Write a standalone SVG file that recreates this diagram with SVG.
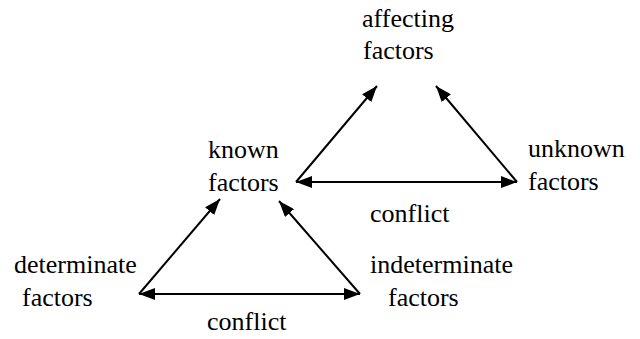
<svg xmlns="http://www.w3.org/2000/svg" width="640" height="339" viewBox="0 0 640 339">
<defs>
<marker id="ah" viewBox="0 0 16 12" refX="16" refY="6" markerWidth="16" markerHeight="12" markerUnits="userSpaceOnUse" orient="auto-start-reverse">
<path d="M0,0 L16,6 L0,12 Z" fill="#000"/>
</marker>
</defs>
<style>
.t{font-family:'Liberation Serif','Times New Roman','DejaVu Serif',serif;font-size:26px;fill:#000}
.c{stroke:#000;stroke-width:2;fill:none}
</style>
<rect width="640" height="339" fill="#fff"/>
<g id="connectors">
<line class="c" x1="296" y1="182" x2="377" y2="86" marker-end="url(#ah)"/>
<line class="c" x1="517" y1="182" x2="436" y2="86" marker-end="url(#ah)"/>
<line class="c" x1="296" y1="182" x2="517" y2="182" marker-start="url(#ah)" marker-end="url(#ah)"/>
<line class="c" x1="139" y1="294" x2="220" y2="199" marker-end="url(#ah)"/>
<line class="c" x1="360" y1="294" x2="279" y2="201" marker-end="url(#ah)"/>
<line class="c" x1="139" y1="294" x2="360" y2="294" marker-start="url(#ah)" marker-end="url(#ah)"/>
</g>
<g id="affecting" class="t" font-family="Liberation Serif, serif"><text x="362" y="27">affecting</text><text x="363" y="59">factors</text></g>
<g id="known" class="t" font-family="Liberation Serif, serif"><text x="208" y="158">known</text><text x="208" y="191">factors</text></g>
<g id="unknown" class="t" font-family="Liberation Serif, serif"><text x="528" y="157">unknown</text><text x="528" y="190">factors</text></g>
<g id="determinate" class="t" font-family="Liberation Serif, serif"><text x="14" y="273">determinate</text><text x="22" y="306">factors</text></g>
<g id="indeterminate" class="t" font-family="Liberation Serif, serif"><text x="370" y="273">indeterminate</text><text x="388" y="306">factors</text></g>
<g id="conflict1" class="t" font-family="Liberation Serif, serif"><text x="370" y="222">conflict</text></g>
<g id="conflict2" class="t" font-family="Liberation Serif, serif"><text x="207" y="330">conflict</text></g>
</svg>
